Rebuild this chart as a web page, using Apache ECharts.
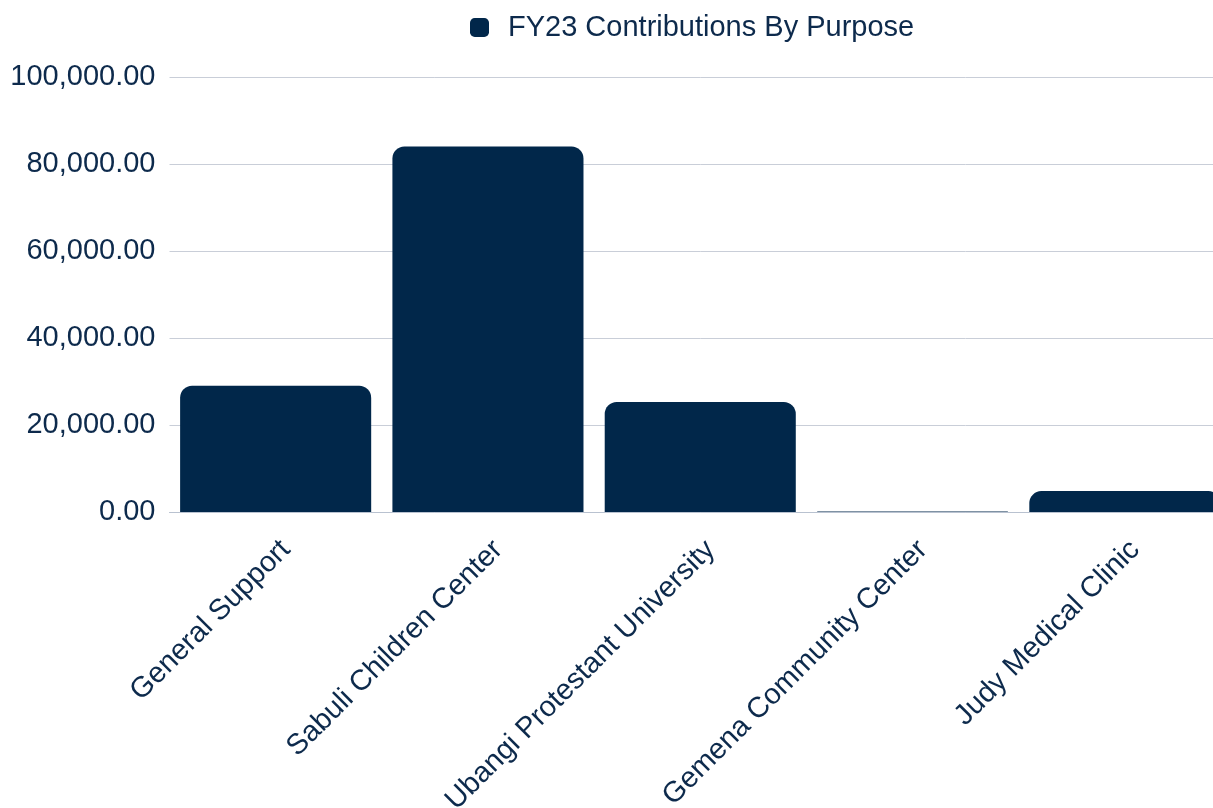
<!DOCTYPE html>
<html lang="en">
<head>
    <meta charset="UTF-8">
    <script src="https://cdn.jsdelivr.net/npm/echarts@6/dist/echarts.min.js"></script>
</head>
<style>
    html, body {
        width: 100%;
        height: 100%;
        margin: 0;
        overflow: hidden;
        background: #ffffff;
    }
</style>
<body>
<!-- plot runs a bit past the right edge, like the original -->
<div id="main" style="width:1231px;height:808px;"></div>
<script type="text/javascript">
    // data
    const seriesName = 'FY23 Contributions By Purpose';
    const purposes = ['General Support', 'Sabuli Children Center', 'Ubangi Protestant University',
        'Gemena Community Center', 'Judy Medical Clinic'];
    const amounts = [29000, 84000, 25300, 100, 4800];

    const navy = '#01274a';
    const textColor = '#0d2a4c';

    let myChart = echarts.init(document.getElementById('main'));

    let option = {
        animation: false,
        textStyle: {fontFamily: 'Liberation Sans, Arial, sans-serif'},
        legend: {
            top: 8,
            left: 465,
            icon: 'roundRect',
            itemWidth: 19,
            itemHeight: 19,
            itemGap: 10,
            textStyle: {fontSize: 29, color: textColor, padding: [0, 0, 0, 14]},
            data: [seriesName]
        },
        grid: {
            left: 169.5,
            right: 0,
            top: 77,
            bottom: 296,
            containLabel: false,
            outerBoundsMode: 'none'
        },
        xAxis: {
            type: 'category',
            data: purposes,
            axisTick: {show: false},
            axisLine: {lineStyle: {color: '#b9c2d0', width: 1}},
            axisLabel: {
                rotate: 45,
                interval: 0,
                fontSize: 29,
                color: textColor,
                margin: 23,
                verticalAlign: 'top'
            }
        },
        yAxis: {
            type: 'value',
            min: 0,
            max: 100000,
            interval: 20000,
            axisLine: {show: false},
            axisTick: {show: false},
            splitLine: {lineStyle: {color: '#c9ced8', width: 1}},
            axisLabel: {
                fontSize: 29,
                color: textColor,
                margin: 14,
                formatter: function (v) {
                    return v.toLocaleString('en-US', {minimumFractionDigits: 2, maximumFractionDigits: 2});
                }
            }
        },
        series: [{
            name: seriesName,
            type: 'bar',
            data: amounts,
            barCategoryGap: '10%',
            itemStyle: {color: navy, borderRadius: [12, 12, 0, 0]}
        }]
    };

    myChart.setOption(option);
</script>
</body>
</html>
